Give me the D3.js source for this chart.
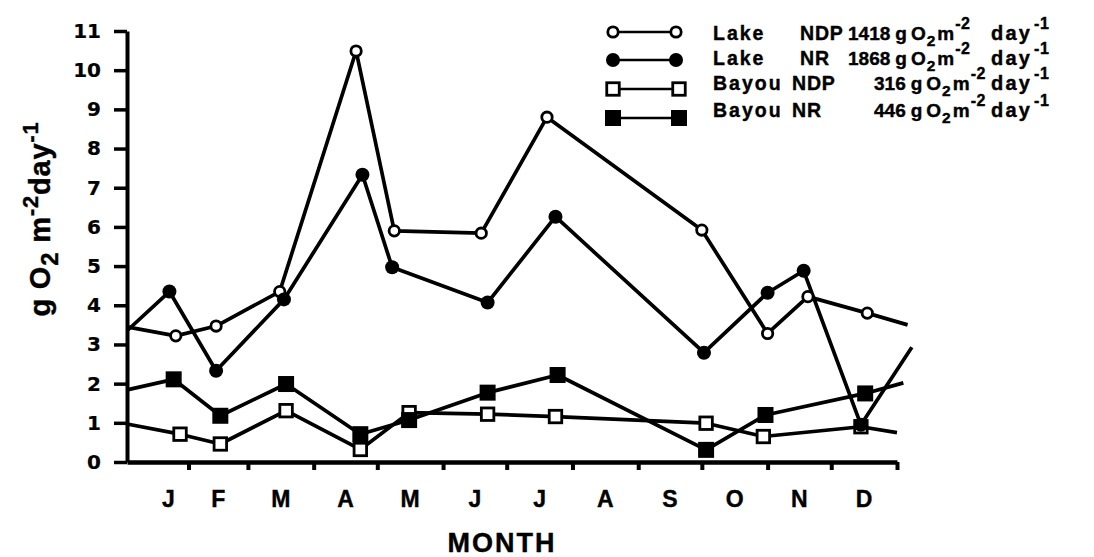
<!DOCTYPE html>
<html><head><meta charset="utf-8">
<script src="https://cdn.jsdelivr.net/npm/d3@7"></script>
<style>
body{margin:0;background:#fff;}
svg{display:block;}
text{font-family:"Liberation Sans",Arial,Helvetica,sans-serif;font-weight:bold;fill:#000;stroke:#000;stroke-width:0.4;}
</style></head><body>
<svg id="chart" width="1094" height="557"></svg>
<script>
// ---- data ----
const months = ["J","F","M","A","M","J","J","A","S","O","N","D"];
const monthStartDays = [0,31,59,90,120,151,181,212,243,273,304,334,365];
const yTicks = [0,1,2,3,4,5,6,7,8,9,10,11];

const lakeNdpDays   = [2, 25, 44, 74, 110, 128, 169, 200, 273, 304, 323, 351, 370];
const lakeNdpValues = [3.45, 3.22, 3.47, 4.35, 10.49, 5.90, 5.84, 8.80, 5.92, 3.28, 4.22, 3.80, 3.50];

const lakeNrDays    = [2, 22, 44, 76, 113, 127, 172, 204, 274, 304, 321, 348, 372];
const lakeNrValues  = [3.35, 4.35, 2.33, 4.15, 7.33, 4.97, 4.07, 6.26, 2.79, 4.32, 4.88, 0.95, 2.93];

const bayouNdpDays   = [2, 27, 46, 77, 112, 135, 172, 204, 275, 302, 348, 365];
const bayouNdpValues = [0.97, 0.71, 0.46, 1.31, 0.32, 1.26, 1.22, 1.16, 0.99, 0.65, 0.90, 0.75];

const bayouNrDays   = [2, 24, 46, 77, 112, 135, 172, 205, 275, 303, 350, 368];
const bayouNrValues = [1.84, 2.11, 1.18, 1.99, 0.71, 1.07, 1.77, 2.22, 0.31, 1.20, 1.75, 2.02];

const legendSites  = ["Lake","Lake","Bayou","Bayou"];
const legendTypes  = ["NDP","NR","NDP","NR"];
const legendTotals = [1418, 1868, 316, 446];

// ---- chart ----
const svg = d3.select("#chart");
const x = d3.scaleLinear().domain([2, 365]).range([127, 897]);
const y = d3.scaleLinear().domain([0, 11]).range([462, 31]);

const series = [
  {days: bayouNdpDays, values: bayouNdpValues, shape: "square", filled: false},
  {days: bayouNrDays,  values: bayouNrValues,  shape: "square", filled: true},
  {days: lakeNdpDays,  values: lakeNdpValues,  shape: "circle", filled: false},
  {days: lakeNrDays,   values: lakeNrValues,   shape: "circle", filled: true}
];

// axes
const yAxis = d3.axisLeft(y).tickValues(yTicks).tickSize(13).tickSizeOuter(0).tickPadding(13);
const gy = svg.append("g").attr("transform","translate(127,0)").call(yAxis);
gy.select(".domain").attr("stroke","#000").attr("stroke-width",4);
gy.selectAll(".tick line").attr("stroke","#000").attr("stroke-width",3.5);
gy.selectAll(".tick text").style("font-size","20px").style("font-family","'DejaVu Sans',sans-serif")
  .style("stroke-width","0.2px").attr("fill","#000");

const xAxis = d3.axisBottom(x).tickValues(monthStartDays.slice(1)).tickSize(8).tickSizeOuter(0).tickFormat("");
const gx = svg.append("g").attr("transform","translate(0,462)").call(xAxis);
gx.select(".domain").attr("stroke","#000").attr("stroke-width",4.5);
gx.selectAll(".tick line").attr("stroke","#000").attr("stroke-width",4);

// month labels at mid-month
svg.append("g").selectAll("text").data(months).join("text")
  .attr("x",(d,i)=>x((monthStartDays[i]+monthStartDays[i+1])/2 + (i===0?6:0)))
  .attr("y",507).attr("text-anchor","middle").style("font-size","23px").text(d=>d);

svg.append("text").attr("x",502).attr("y",552).attr("text-anchor","middle")
  .style("font-size","27px").attr("letter-spacing",2).text("MONTH");

// y title
const yt = svg.append("text").attr("transform","translate(50,219) rotate(-90)")
  .attr("text-anchor","middle").style("font-size","29px").attr("letter-spacing",0.8);
yt.append("tspan").text("g O");
yt.append("tspan").attr("dy",8).style("font-size","24px").text("2");
yt.append("tspan").attr("dy",-8).text(" m");
yt.append("tspan").attr("dy",-12).style("font-size","22px").text("-2");
yt.append("tspan").attr("dy",12).text("day");
yt.append("tspan").attr("dy",-12).style("font-size","22px").text("-1");

// lines
const line = d3.line().x(d=>x(d[0])).y(d=>y(d[1]));
series.forEach(s=>{
  const pts = s.days.map((d,i)=>[d, s.values[i]]);
  svg.append("path").datum(pts).attr("d",line).attr("fill","none")
    .attr("stroke","#000").attr("stroke-width",3.7).attr("stroke-linejoin","round");
});

function drawMarker(g, cx, cy, shape, filled, scale){
  scale = scale||1;
  if(shape==="circle"){
    if(filled) g.append("circle").attr("cx",cx).attr("cy",cy).attr("r",7*scale).attr("fill","#000");
    else g.append("circle").attr("cx",cx).attr("cy",cy).attr("r",5.2*scale).attr("fill","#fff").attr("stroke","#000").attr("stroke-width",2.8);
  } else {
    if(filled){ const s=16*scale; g.append("rect").attr("x",cx-s/2).attr("y",cy-s/2).attr("width",s).attr("height",s).attr("fill","#000"); }
    else { const s=12.5*scale; g.append("rect").attr("x",cx-s/2).attr("y",cy-s/2).attr("width",s).attr("height",s).attr("fill","#fff").attr("stroke","#000").attr("stroke-width",2.8); }
  }
}
const mg = svg.append("g");
series.forEach(s=>{
  s.days.forEach((d,i)=>{
    if(i===0 || i===s.days.length-1) return;
    drawMarker(mg, x(d), y(s.values[i]), s.shape, s.filled);
  });
});

// legend
const legendOrder = [2,3,0,1]; // series index for each legend row
const symRowY = [32, 60, 89, 118];
const textRowY = [40, 65, 90, 117];
const lg = svg.append("g");
function piece(px, py, str, size, ls){
  const t = lg.append("text").attr("x",px).attr("y",py).style("font-size",size+"px")
    .attr("letter-spacing",ls||0).text(str);
  return px + t.node().getComputedTextLength();
}
legendSites.forEach((site,i)=>{
  const s = series[legendOrder[i]];
  const yy = textRowY[i];
  const x1 = 613, x2 = s.shape==="circle" ? 676 : 679;
  lg.append("line").attr("x1",x1).attr("x2",x2).attr("y1",symRowY[i]).attr("y2",symRowY[i])
    .attr("stroke","#000").attr("stroke-width",2.4);
  drawMarker(lg, x1, symRowY[i], s.shape, s.filled, 1.0);
  drawMarker(lg, x2, symRowY[i], s.shape, s.filled, 1.0);
  piece(713, yy, site, 19.5, 2);
  piece(site==="Lake"?800:792, yy, legendTypes[i], 19.5, 0.8);
  let cx = piece(legendTotals[i]>=1000?848:874, yy, legendTotals[i], 19, 0);
  cx = piece(cx+5, yy, "g", 19);
  cx = piece(cx+4, yy, "O", 19);
  cx = piece(cx+1, yy+6, "2", 15.5);
  cx = piece(cx+2, yy, "m", 19);
  piece(cx+1, yy-11, "-2", 16, 0.5);
  const dx = piece(991, yy, "day", 20, 2.2);
  piece(dx+2, yy-11, "-1", 16, 0.5);
});
</script>
</body></html>
